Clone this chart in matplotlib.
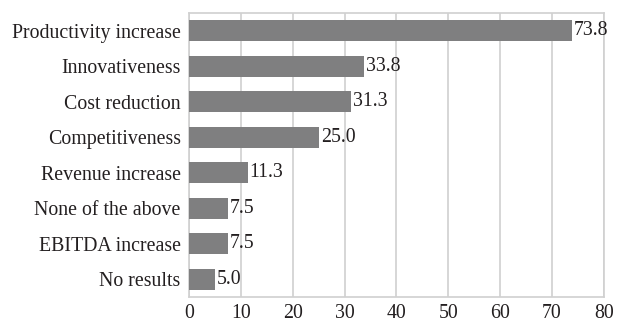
import matplotlib
matplotlib.use("Agg")
from matplotlib import pyplot as plt

categories = ["Productivity increase", "Innovativeness", "Cost reduction",
              "Competitiveness", "Revenue increase", "None of the above",
              "EBITDA increase", "No results"]
values = [73.8, 33.8, 31.3, 25.0, 11.3, 7.5, 7.5, 5.0]
xticks = [0, 10, 20, 30, 40, 50, 60, 70, 80]

plt.rcParams['font.family'] = ['Liberation Serif', 'DejaVu Serif']
text_color = "#231f20"
grid_color = "#d0d0d0"
fsize = 14.3

fig = plt.figure(figsize=(6.31, 3.25), dpi=100)
ax = fig.add_axes([0.2995, 0.0862, 0.6575, 0.8738])

ys = range(len(categories))
ax.barh(ys, values, height=0.6, color="#7f7f80", zorder=3)
for y, v in zip(ys, values):
    ax.text(v + 0.4, y, f"{v:.1f}", va="center", ha="left",
            fontsize=fsize, color=text_color, zorder=4)

ax.set_xlim(0, 80)
ax.set_ylim(len(categories) - 0.5, -0.5)
ax.set_xticks(xticks)
ax.set_yticks(list(ys))
ax.set_yticklabels(categories)
ax.tick_params(axis="both", length=0, labelsize=fsize, colors=text_color)
ax.tick_params(axis="y", pad=6)
ax.tick_params(axis="x", pad=5)
ax.grid(axis="x", color=grid_color, linewidth=1.2, zorder=0)
for s in ax.spines.values():
    s.set_color(grid_color)
    s.set_linewidth(1.2)

fig.savefig("out.png", dpi=100)
